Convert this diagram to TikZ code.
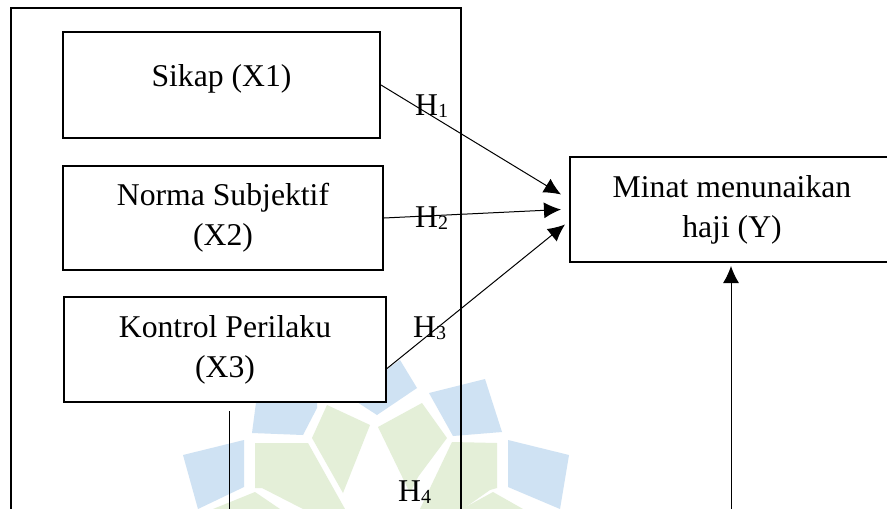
\documentclass[tikz,border=0pt]{standalone}
\usepackage{fontspec}
\setmainfont{Liberation Serif}
\usetikzlibrary{arrows.meta}
\definecolor{wmblue}{HTML}{CFE2F3}
\definecolor{wmgreen}{HTML}{E4EFD8}
\newcommand{\hsub}[1]{\raisebox{-2pt}{\fontsize{20}{20}\selectfont #1}}
\tikzset{
  varbox/.style={draw,line width=2pt,fill=white,align=center,inner sep=0pt,
    font=\fontsize{31.7}{40}\selectfont},
  hlabel/.style={anchor=base west,inner sep=0pt,font=\fontsize{31.7}{40}\selectfont},
  link/.style={-{Latex[length=17pt,width=16pt]},line width=1pt},
}
\begin{document}
\begin{tikzpicture}[x=1pt,y=-1pt]
     \useasboundingbox (0,0) rectangle (887,509);
     \clip (0,0) rectangle (887,509);
     \fill[white] (0,0) rectangle (887,509);

  %  watermark
     \fill[wmblue] (252,433)--(303,435)--(317,408)--(317,395)--(257,395)--cycle;
     \fill[wmblue] (390,367)--(400,360)--(417,388)--(377,415)--(357,402)--(357,395)--cycle;
     \fill[wmblue] (429,393)--(485,379)--(502,432)--(453,436)--cycle;
     \fill[wmblue] (508,440)--(569,455)--(560,509)--(508,487)--cycle;
     \fill[wmblue] (183,455)--(244,440)--(244,487)--(198,509)--cycle;
     \fill[wmgreen] (255,443)--(308,443)--(345,509)--(303,509)--(262,488)--(255,488)--cycle;
     \fill[wmgreen] (312,438)--(327,405)--(370,425)--(343,493)--cycle;
     \fill[wmgreen] (378,427)--(422,403)--(447,438)--(418,477)--(410,493)--cycle;
     \fill[wmgreen] (452,442)--(497,443)--(497,488)--(490,490)--(463,509)--(420,509)--cycle;
     \fill[wmgreen] (213,509)--(255,492)--(280,509)--cycle;
     \fill[wmgreen] (462,509)--(493,492)--(523,509)--cycle;

     \draw[line width=1.5pt] (11,8) rectangle (461,530);

     \node[varbox,minimum width=317pt,minimum height=106pt,text height=23pt,text depth=21pt] (sikap) at (221.5,85) {Sikap (X1)};
     \node[varbox,minimum width=320pt,minimum height=104pt] (norma) at (223,218) {Norma Subjektif\\(X2)};
     \node[varbox,minimum width=322pt,minimum height=105pt] (kontrol) at (225,349.5) {Kontrol Perilaku\\(X3)};
     \node[varbox,minimum width=324pt,minimum height=105pt] (minat) at (732,209.5) {Minat menunaikan\\haji (Y)};

     \coordinate (bottomleft) at (229,530);
     \coordinate (bottomright) at (731,530);

     \draw[link] (sikap.east)--([xshift=-8pt,yshift=15pt]minat.west);
     \draw[link] (norma.east)--([xshift=-8pt]minat.west);
     \draw[link] ([yshift=-19pt]kontrol.east)--([xshift=-4pt,yshift=-15pt]minat.west);
     \draw[link] (bottomright)--([xshift=-1pt,yshift=-3pt]minat.south);
     \draw[line width=1pt] ([xshift=4pt,yshift=-8pt]kontrol.south)--(bottomleft);

     \node[hlabel] (h1) at (415,115) {H\hsub{1}};
     \node[hlabel] (h2) at (415,227) {H\hsub{2}};
     \node[hlabel] (h3) at (413,337) {H\hsub{3}};
     \node[hlabel] (h4) at (398,501) {H\hsub{4}};
\end{tikzpicture}
\end{document}
